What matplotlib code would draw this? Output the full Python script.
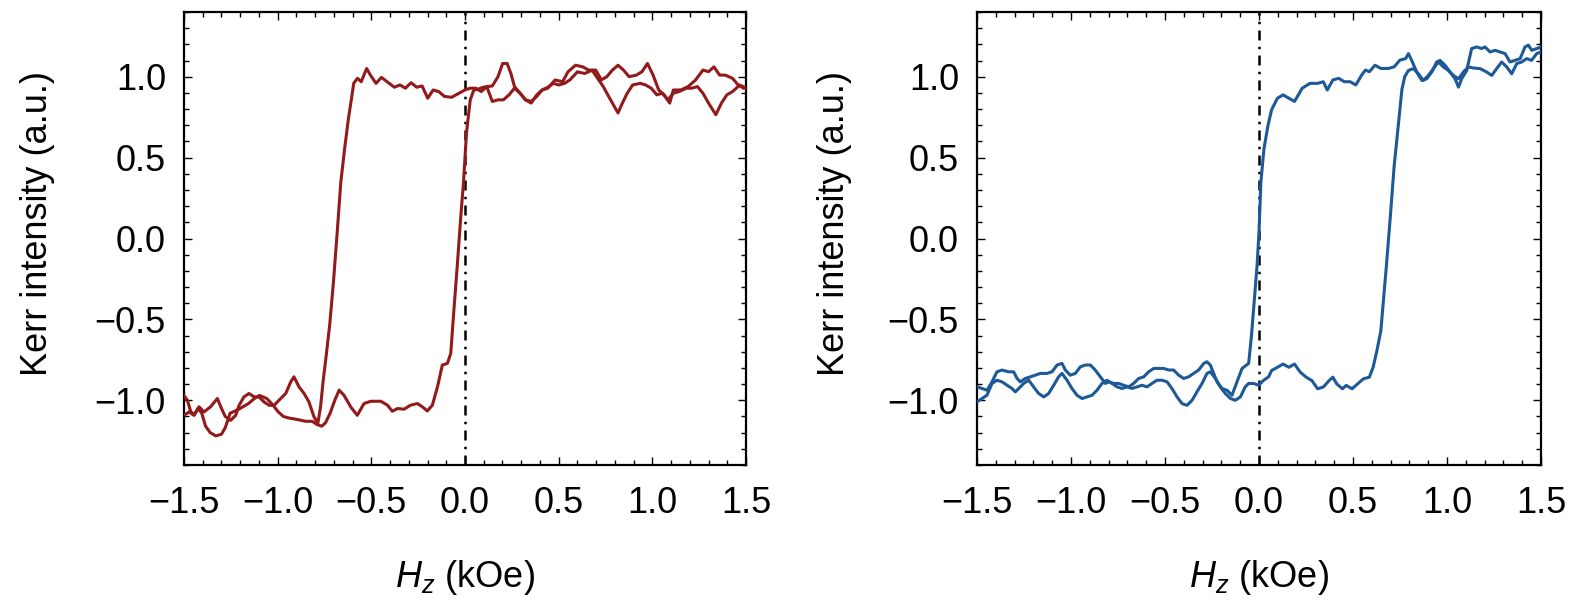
import matplotlib
matplotlib.use("Agg")
import matplotlib.pyplot as plt
from matplotlib.ticker import MultipleLocator, FuncFormatter

plt.rcParams['font.family'] = ['Liberation Sans', 'DejaVu Sans']
plt.rcParams['mathtext.fontset'] = 'custom'
plt.rcParams['mathtext.rm'] = 'Liberation Sans'
plt.rcParams['mathtext.it'] = 'Liberation Sans:italic'

# ---------------- data ----------------
red_desc_h = [-1.50, -1.473, -1.447, -1.420, -1.393, -1.358, -1.322, -1.30, -1.28, -1.251,
              -1.224, -1.206, -1.180, -1.153, -1.126, -1.100, -1.073, -1.046, -1.019, -0.984,
              -0.957, -0.930, -0.913, -0.886, -0.859, -0.833, -0.806, -0.785, -0.771, -0.757,
              -0.742, -0.722, -0.702, -0.682, -0.663, -0.643, -0.623, -0.607, -0.594, -0.574,
              -0.554, -0.525, -0.505, -0.475, -0.446, -0.416, -0.377, -0.347, -0.318, -0.288,
              -0.258, -0.229, -0.199, -0.170, -0.140, -0.110, -0.071, -0.032, 0.0, 0.028,
              0.057, 0.087, 0.116, 0.146, 0.176, 0.205, 0.235, 0.264, 0.294, 0.323,
              0.353, 0.383, 0.412, 0.442, 0.481, 0.521, 0.550, 0.590, 0.629, 0.659,
              0.698, 0.728, 0.757, 0.787, 0.817, 0.846, 0.876, 0.915, 0.945, 0.974,
              1.004, 1.034, 1.063, 1.093, 1.112, 1.152, 1.191, 1.231, 1.270, 1.300,
              1.329, 1.359, 1.389, 1.428, 1.458, 1.487, 1.50]
red_desc_m = [-1.093, -1.072, -1.093, -1.040, -1.072, -1.040, -0.989, -1.05, -1.10, -1.124,
              -1.093, -1.031, -0.979, -0.958, -0.979, -0.979, -1.010, -1.031, -1.031, -0.989,
              -0.958, -0.886, -0.855, -0.917, -0.958, -1.010, -1.103, -1.140, -1.040, -0.878,
              -0.735, -0.531, -0.265, 0.041, 0.347, 0.551, 0.735, 0.857, 0.959, 0.990,
              0.969, 1.051, 1.010, 0.959, 0.996, 0.969, 0.935, 0.949, 0.929, 0.963,
              0.935, 0.943, 0.867, 0.918, 0.908, 0.878, 0.873, 0.898, 0.918, 0.929,
              0.929, 0.908, 0.939, 0.847, 0.857, 0.857, 0.888, 0.929, 0.898, 0.857,
              0.837, 0.888, 0.918, 0.929, 0.980, 0.969, 1.031, 1.071, 1.061, 1.041,
              1.041, 0.980, 1.000, 1.041, 1.071, 1.041, 1.000, 1.010, 1.031, 1.082,
              1.010, 0.918, 0.888, 0.837, 0.918, 0.918, 0.939, 0.980, 1.041, 1.031,
              1.061, 1.010, 1.010, 0.990, 0.949, 0.929, 0.930]

red_asc_h = [-1.50, -1.482, -1.464, -1.445, -1.425, -1.405, -1.385, -1.36, -1.33, -1.30,
             -1.28, -1.265, -1.254, -1.215, -1.185, -1.156, -1.125, -1.097, -1.057, -1.025,
             -0.998, -0.97, -0.939, -0.89, -0.850, -0.815, -0.79, -0.765, -0.745, -0.72,
             -0.695, -0.672, -0.646, -0.610, -0.575, -0.539, -0.503, -0.450, -0.414, -0.388,
             -0.361, -0.325, -0.290, -0.254, -0.228, -0.201, -0.174, -0.147, -0.121, -0.094,
             -0.076, -0.061, -0.041, -0.022, -0.008, 0.008, 0.028, 0.047, 0.067, 0.097,
             0.146, 0.176, 0.201, 0.225, 0.245, 0.264, 0.294, 0.323, 0.353, 0.383,
             0.412, 0.442, 0.471, 0.501, 0.531, 0.560, 0.600, 0.639, 0.679, 0.708,
             0.738, 0.767, 0.797, 0.817, 0.836, 0.866, 0.895, 0.935, 0.964, 0.994,
             1.024, 1.053, 1.083, 1.112, 1.142, 1.181, 1.211, 1.241, 1.270, 1.300,
             1.339, 1.369, 1.398, 1.428, 1.467, 1.50]
red_asc_m = [-0.97, -1.00, -1.07, -1.09, -1.05, -1.08, -1.16, -1.20, -1.22, -1.21,
             -1.17, -1.12, -1.08, -1.06, -1.04, -1.02, -0.99, -0.97, -0.99, -1.03,
             -1.07, -1.10, -1.11, -1.12, -1.13, -1.13, -1.15, -1.16, -1.14, -1.08,
             -1.00, -0.937, -0.969, -1.041, -1.093, -1.020, -1.006, -1.006, -1.030, -1.068,
             -1.051, -1.055, -1.030, -1.020, -1.040, -1.066, -1.030, -0.917, -0.782, -0.772,
             -0.710, -0.47, -0.163, 0.143, 0.347, 0.653, 0.857, 0.918, 0.922, 0.935,
             0.943, 1.000, 1.082, 1.082, 1.020, 0.939, 0.898, 0.857, 0.847, 0.878,
             0.918, 0.935, 0.959, 0.949, 0.959, 0.980, 1.030, 1.020, 1.040, 0.990,
             0.939, 0.878, 0.816, 0.776, 0.827, 0.898, 0.949, 0.959, 0.949, 0.929,
             0.888, 0.898, 0.857, 0.898, 0.908, 0.929, 0.929, 0.939, 0.898, 0.837,
             0.765, 0.837, 0.888, 0.908, 0.949, 0.930]

blue_desc_h = [-1.500, -1.473, -1.447, -1.420, -1.394, -1.367, -1.332, -1.305, -1.287, -1.270,
               -1.243, -1.216, -1.190, -1.163, -1.128, -1.101, -1.074, -1.048, -1.030, -1.004,
               -0.977, -0.950, -0.924, -0.897, -0.871, -0.844, -0.817, -0.800, -0.773, -0.746,
               -0.720, -0.693, -0.667, -0.640, -0.613, -0.587, -0.560, -0.534, -0.507, -0.480,
               -0.454, -0.427, -0.401, -0.374, -0.348, -0.321, -0.294, -0.277, -0.259, -0.241,
               -0.223, -0.197, -0.170, -0.144, -0.117, -0.090, -0.055, -0.040, -0.024, -0.010,
               0.000, 0.010, 0.026, 0.047, 0.067, 0.098, 0.128, 0.159, 0.189, 0.230,
               0.271, 0.312, 0.342, 0.363, 0.393, 0.424, 0.454, 0.485, 0.515, 0.546,
               0.566, 0.587, 0.617, 0.648, 0.688, 0.719, 0.749, 0.780, 0.795, 0.812,
               0.839, 0.866, 0.892, 0.919, 0.945, 0.963, 0.990, 1.016, 1.043, 1.061,
               1.078, 1.105, 1.131, 1.158, 1.185, 1.202, 1.229, 1.256, 1.282, 1.309,
               1.335, 1.362, 1.389, 1.415, 1.433, 1.451, 1.477, 1.500]
blue_desc_m = [-0.917, -0.927, -0.938, -0.886, -0.824, -0.813, -0.824, -0.824, -0.865, -0.886,
               -0.865, -0.855, -0.845, -0.834, -0.834, -0.824, -0.782, -0.772, -0.813, -0.845,
               -0.834, -0.793, -0.782, -0.782, -0.813, -0.855, -0.896, -0.886, -0.896, -0.896,
               -0.907, -0.917, -0.896, -0.865, -0.855, -0.824, -0.803, -0.803, -0.803, -0.813,
               -0.813, -0.845, -0.865, -0.855, -0.834, -0.813, -0.772, -0.762, -0.782, -0.834,
               -0.886, -0.927, -0.938, -0.969, -0.886, -0.803, -0.772, -0.600, -0.367, -0.163,
               0.041, 0.347, 0.551, 0.694, 0.796, 0.867, 0.888, 0.867, 0.847, 0.929,
               0.959, 0.959, 0.969, 0.918, 0.980, 0.990, 0.969, 0.969, 0.949, 1.010,
               1.041, 1.031, 1.071, 1.051, 1.051, 1.061, 1.102, 1.112, 1.143, 1.101,
               1.029, 0.977, 0.987, 1.029, 1.091, 1.101, 1.070, 1.029, 0.987, 0.936,
               0.987, 1.039, 1.174, 1.184, 1.174, 1.184, 1.153, 1.163, 1.153, 1.143,
               1.091, 1.101, 1.112, 1.184, 1.195, 1.163, 1.174, 1.184]

blue_asc_h = [-1.500, -1.473, -1.447, -1.420, -1.394, -1.367, -1.340, -1.314, -1.296, -1.278,
              -1.252, -1.225, -1.199, -1.172, -1.145, -1.119, -1.092, -1.066, -1.048, -1.021,
              -0.995, -0.968, -0.941, -0.915, -0.888, -0.862, -0.835, -0.809, -0.782, -0.755,
              -0.729, -0.702, -0.676, -0.649, -0.622, -0.596, -0.569, -0.543, -0.516, -0.489,
              -0.463, -0.436, -0.410, -0.383, -0.356, -0.330, -0.303, -0.277, -0.259, -0.232,
              -0.206, -0.179, -0.152, -0.126, -0.099, -0.073, -0.055, -0.028, -0.002, 0.025,
              0.051, 0.067, 0.098, 0.128, 0.159, 0.189, 0.220, 0.251, 0.281, 0.312,
              0.342, 0.373, 0.393, 0.413, 0.444, 0.464, 0.495, 0.525, 0.556, 0.587,
              0.607, 0.627, 0.648, 0.678, 0.699, 0.719, 0.741, 0.760, 0.775, 0.795,
              0.821, 0.848, 0.874, 0.901, 0.928, 0.954, 0.981, 1.007, 1.034, 1.061,
              1.087, 1.114, 1.140, 1.176, 1.211, 1.238, 1.264, 1.291, 1.318, 1.344,
              1.371, 1.397, 1.424, 1.450, 1.477, 1.500]
blue_asc_m = [-1.010, -0.989, -0.969, -0.896, -0.876, -0.886, -0.907, -0.927, -0.948, -0.927,
              -0.896, -0.876, -0.917, -0.958, -0.979, -0.958, -0.907, -0.855, -0.834, -0.876,
              -0.927, -0.969, -0.989, -0.979, -0.969, -0.938, -0.896, -0.876, -0.896, -0.917,
              -0.927, -0.917, -0.927, -0.917, -0.907, -0.917, -0.896, -0.876, -0.876, -0.886,
              -0.927, -0.979, -1.020, -1.031, -1.000, -0.948, -0.896, -0.834, -0.824, -0.865,
              -0.917, -0.958, -0.989, -1.000, -0.979, -0.917, -0.896, -0.896, -0.907, -0.876,
              -0.855, -0.816, -0.796, -0.776, -0.796, -0.776, -0.827, -0.857, -0.878, -0.929,
              -0.918, -0.878, -0.857, -0.898, -0.929, -0.908, -0.929, -0.898, -0.867, -0.857,
              -0.796, -0.694, -0.571, -0.163, 0.143, 0.449, 0.700, 0.920, 1.000, 1.039,
              1.050, 1.018, 0.977, 1.008, 1.050, 1.091, 1.060, 1.039, 1.008, 0.987,
              1.029, 1.060, 1.054, 1.050, 1.029, 1.008, 1.050, 1.091, 1.060, 1.018,
              1.081, 1.091, 1.112, 1.101, 1.143, 1.153]

x_ticks = [-1.5, -1.0, -0.5, 0.0, 0.5, 1.0, 1.5]
y_ticks = [-1.0, -0.5, 0.0, 0.5, 1.0]
red = '#921a1a'
blue = '#1d5897'

fmt = FuncFormatter(lambda v, p: f'{v:.1f}'.replace('-', '\u2212'))

fig = plt.figure(figsize=(15.72, 6.01), dpi=100)
ax1 = fig.add_axes([184 / 1572, 1 - 465 / 601, 562 / 1572, 453 / 601])
ax2 = fig.add_axes([977 / 1572, 1 - 465 / 601, 564 / 1572, 453 / 601])

panels = [
    (ax1, red, (red_desc_h, red_desc_m), (red_asc_h, red_asc_m)),
    (ax2, blue, (blue_desc_h, blue_desc_m), (blue_asc_h, blue_asc_m)),
]

for ax, col, d, a in panels:
    ax.axvline(0.0, color='black', lw=1.8, linestyle=(0, (4, 2.5, 1.0, 2.5)), zorder=1)
    for h, m in (d, a):
        ax.plot(h, m, color=col, lw=2.2, zorder=3,
                solid_joinstyle='round', solid_capstyle='round')
    ax.set_xlim(-1.5, 1.5)
    ax.set_ylim(-1.4, 1.4)
    ax.set_xticks(x_ticks)
    ax.set_yticks(y_ticks)
    ax.xaxis.set_minor_locator(MultipleLocator(0.1))
    ax.yaxis.set_minor_locator(MultipleLocator(0.1))
    ax.xaxis.set_major_formatter(fmt)
    ax.yaxis.set_major_formatter(fmt)
    ax.tick_params(which='both', direction='in', top=True, right=True, width=1.0)
    ax.tick_params(which='major', length=6)
    ax.tick_params(which='minor', length=3.5)
    ax.tick_params(axis='x', which='major', labelsize=26, pad=15)
    ax.tick_params(axis='y', which='major', labelsize=26, pad=13)
    for s in ax.spines.values():
        s.set_linewidth(1.6)
    ax.set_xlabel(r'$H_z$ (kOe)', fontsize=26)
    ax.set_ylabel('Kerr intensity (a.u.)', fontsize=26)
    ax.xaxis.set_label_coords(0.5, -0.205)

ax1.yaxis.set_label_coords(-0.229, 0.534)
ax2.yaxis.set_label_coords(-0.222, 0.534)

fig.savefig('out.png', dpi=100)
